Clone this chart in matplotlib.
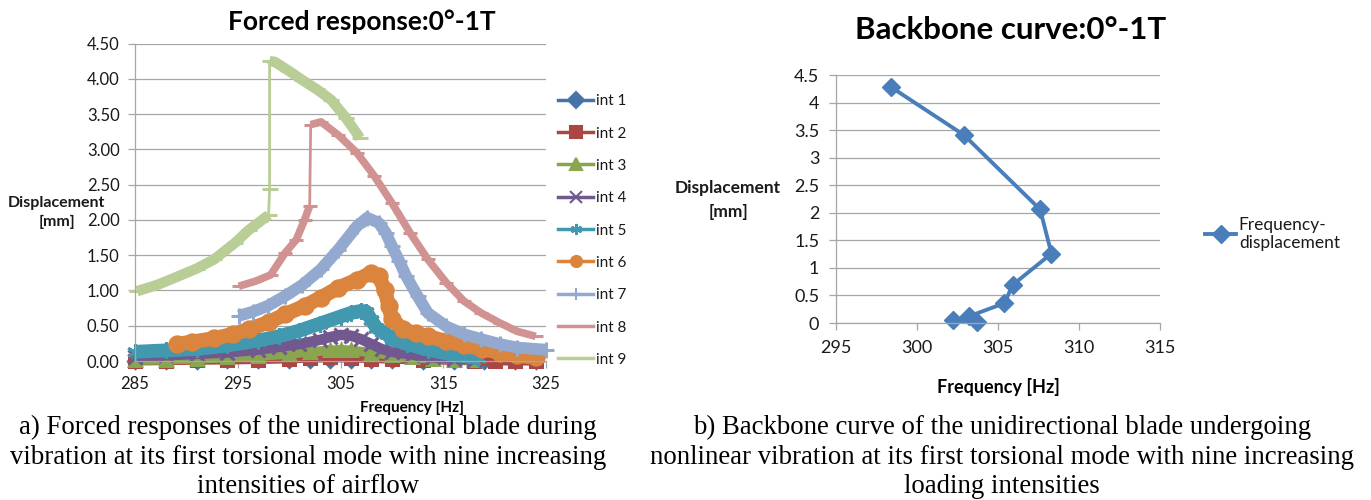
#!/usr/bin/env python

import numpy as np
import matplotlib
matplotlib.use('Agg')
import matplotlib.pyplot as plt
from matplotlib.lines import Line2D

plt.rcParams['font.family'] = ['Lato', 'DejaVu Sans']

# forced responses, nine airflow intensities: frequency [Hz], displacement [mm]
f1 = [285, 288, 291, 294, 297, 300, 302, 304, 306, 308, 310, 313, 316, 319, 322, 324]
d1 = [0.0, 0.0, 0.005, 0.01, 0.01, 0.015, 0.02, 0.02, 0.02, 0.015, 0.01, 0.005, 0.0, 0.0, 0.0, 0.0]

f2 = [285, 288, 291, 294, 297, 300, 302, 304, 306, 308, 310, 313, 316, 318, 320, 322, 324]
d2 = [0.0, 0.005, 0.01, 0.015, 0.02, 0.03, 0.04, 0.05, 0.045, 0.035, 0.025, 0.015, 0.01, 0.0, 0.0, 0.0, 0.0]

f3 = [285, 288, 291, 294, 297, 300, 302, 304, 305, 306, 308, 310, 312, 314, 316, 318]
d3 = [0.01, 0.02, 0.03, 0.05, 0.07, 0.1, 0.13, 0.15, 0.16, 0.15, 0.12, 0.08, 0.05, 0.03, 0.02, 0.01]

f4 = [285, 288, 291, 294, 297, 299, 301, 303, 304, 305, 306, 307, 308, 309, 310, 312, 314, 316, 318]
d4 = [0.06, 0.08, 0.1, 0.12, 0.16, 0.2, 0.24, 0.3, 0.34, 0.37, 0.36, 0.31, 0.24, 0.17, 0.13, 0.09, 0.05, 0.03, 0.02]

f5 = [285, 288, 291, 294, 297, 299, 301, 303, 305, 306, 307, 307.5, 308, 308.5, 309.5, 310,
      311.5, 313.5, 316, 318.4]
d5 = [0.13, 0.15, 0.17, 0.22, 0.29, 0.35, 0.43, 0.53, 0.63, 0.68, 0.71, 0.70, 0.58, 0.47, 0.38, 0.31,
      0.24, 0.16, 0.09, 0.04]

f6 = [289.1, 290.5, 292.7, 294.5, 296.1, 298, 299.6, 301.5, 303.1, 304.8, 306.6, 308, 308.7, 309.3,
      309.7, 310, 311.1, 312.3, 313.5, 315.3, 317, 318.8, 320.5, 322.2, 324]
d6 = [0.24, 0.27, 0.32, 0.38, 0.45, 0.55, 0.66, 0.78, 0.9, 1.04, 1.15, 1.25, 1.21, 1.01,
      0.78, 0.59, 0.45, 0.39, 0.35, 0.28, 0.22, 0.17, 0.12, 0.08, 0.05]

f7 = [295.1, 296.5, 297.9, 299.6, 301.3, 303.1, 304.8, 306.6, 307.6, 308.7, 309.4, 310, 310.7,
      311.4, 312.5, 313.5, 315.3, 317, 318.7, 320.5, 322.2, 325]
d7 = [0.64, 0.7, 0.78, 0.92, 1.08, 1.3, 1.58, 1.91, 2.03, 1.96, 1.82, 1.63, 1.42,
      1.2, 0.92, 0.68, 0.49, 0.38, 0.31, 0.24, 0.19, 0.16]

f8 = [295.1, 296.7, 298.2, 299.6, 300.7, 301.5, 302.0, 302.1, 303.1, 304.8, 306.6, 308.3, 310.0,
      311.8, 313.5, 315.3, 317.0, 318.7, 320.5, 322.2, 324.0]
d8 = [1.06, 1.13, 1.22, 1.53, 1.72, 2.0, 2.2, 3.35, 3.39, 3.2, 2.95, 2.62, 2.24,
      1.81, 1.44, 1.11, 0.85, 0.68, 0.54, 0.42, 0.35]

f9 = [285.2, 287.2, 289.2, 291, 292.7, 294.7, 296.1, 297.2, 298.0, 298.1, 298.1, 298.6, 300,
      301.3, 302.7, 304.1, 305.5, 306.9]
d9 = [0.99, 1.08, 1.20, 1.31, 1.44, 1.67, 1.86, 1.98, 2.07, 2.44, 4.25, 4.24, 4.11,
      3.98, 3.85, 3.70, 3.45, 3.16]

names = ['int 1', 'int 2', 'int 3', 'int 4', 'int 5', 'int 6', 'int 7', 'int 8', 'int 9']
freqs = [f1, f2, f3, f4, f5, f6, f7, f8, f9]
disps = [d1, d2, d3, d4, d5, d6, d7, d8, d9]

# backbone curve: peak of each forced response
bb_freq = [303.7, 302.2, 303.2, 305.4, 305.9, 308.3, 307.6, 302.9, 298.4]
bb_disp = [0.01, 0.05, 0.12, 0.36, 0.69, 1.26, 2.06, 3.41, 4.28]

colors = ['#4572A7', '#AA4643', '#89A54E', '#71588F', '#4198AF',
          '#DB843D', '#93A9CF', '#D19392', '#B9CD96']
markers = ['D', 's', '^', 'x', (6, 2, 0), 'o', '+', '_', '_']
msizes = [7, 9, 9, 10, 12, 11, 12, 10, 12]
bands = [4, 6.5, 7, 7.5, 10, 10.5, 8.5, 5.5, 7.5]

grid_c = '#A6A6A6'
text_c = '#1a1a1a'


def style(ax):
    ax.grid(axis='y', color=grid_c, lw=0.9)
    ax.set_axisbelow(True)
    for s in ['top', 'right']:
        ax.spines[s].set_visible(False)
    for s in ['left', 'bottom']:
        ax.spines[s].set_color(grid_c)
        ax.spines[s].set_linewidth(0.9)
    ax.tick_params(direction='out', length=5, width=0.9, color=grid_c, labelcolor=text_c)


def y_title(ax, x, y, gap, size):
    # two-line axis title set horizontally, left of the tick labels
    ax.text(x, y + gap, 'Displacement', transform=ax.transAxes, ha='center', va='center',
            fontsize=size, fontweight='bold', color=text_c)
    ax.text(x, y - gap, '[mm]', transform=ax.transAxes, ha='center', va='center',
            fontsize=size, fontweight='bold', color=text_c)


fig = plt.figure(figsize=(13.71, 5.0), dpi=100)

# a) forced responses
ax = fig.add_axes([135 / 1371, 1 - 361 / 500, 411 / 1371, 317.5 / 500])
style(ax)
for f, d, c, m, ms, bw in zip(freqs, disps, colors, markers, msizes, bands):
    f = np.array(f)
    d = np.array(d)
    # thin line through everything, thick band except across the jumps
    ax.plot(f, d, color=c, lw=2, clip_on=False)
    cuts = np.where(np.diff(f) < 0.2)[0] + 1
    for fs, ds in zip(np.split(f, cuts), np.split(d, cuts)):
        ax.plot(fs, ds, color=c, lw=bw, solid_capstyle='butt', clip_on=False)
    ax.plot(f, d, ls='none', marker=m, ms=ms, color=c, mec=c, mew=2.2, clip_on=False)

ax.set_xlim(285, 325)
ax.set_ylim(0, 4.5)
ax.set_xticks([285, 295, 305, 315, 325])
ax.set_yticks(np.arange(0, 4.51, 0.5))
ax.set_yticklabels(['%.2f' % v for v in np.arange(0, 4.51, 0.5)])
ax.tick_params(labelsize=12, pad=6)
y_title(ax, -0.19, 0.469, 0.03, 11.5)
ax.set_xlabel('Frequency [Hz]', fontsize=11, fontweight='bold')
ax.xaxis.set_label_coords(0.674, -0.125)

handles = [Line2D([], [], color=c, lw=2.5, marker=m, ms=0 if m == '_' else 8, mew=1.5)
           for c, m in zip(colors, markers)]
fig.legend(handles, names, loc='center left', bbox_to_anchor=(558 / 1371, 1 - 230.5 / 500),
           frameon=False, fontsize=11, handlelength=2.3, handletextpad=0.2,
           labelspacing=1.2, borderpad=0, borderaxespad=0, labelcolor=text_c)

fig.text(362 / 1371, 1 - 22 / 500, 'Forced response:0°-1T', ha='center', va='center',
         fontsize=19, fontweight='bold')

# b) backbone curve
bx = fig.add_axes([836 / 1371, 1 - 323 / 500, 324 / 1371, 248 / 500])
style(bx)
bx.plot(bb_freq, bb_disp, color='#4A7EBB', lw=2.8, marker='D', ms=9,
        label='Frequency-\ndisplacement', clip_on=False)
bx.set_xlim(295, 315)
bx.set_ylim(0, 4.5)
bx.set_xticks([295, 300, 305, 310, 315])
bx.set_yticks(np.arange(0, 4.51, 0.5))
bx.set_yticklabels(['%g' % v for v in np.arange(0, 4.51, 0.5)])
bx.tick_params(labelsize=13, pad=7)
y_title(bx, -0.333, 0.496, 0.05, 12.5)
bx.set_xlabel('Frequency [Hz]', fontsize=13, fontweight='bold')
bx.xaxis.set_label_coords(0.5, -0.222)
bx.legend(loc='center left', bbox_to_anchor=(1205 / 1371, 1 - 234 / 500),
          bbox_transform=fig.transFigure, frameon=False, fontsize=12.5,
          handlelength=1.8, handletextpad=0.15, borderpad=0, borderaxespad=0,
          labelcolor=text_c)

fig.text(1011 / 1371, 1 - 30 / 500, 'Backbone curve:0°-1T', ha='center', va='center',
         fontsize=22.5, fontweight='bold')

# captions
cap_a = ('a) Forced responses of the unidirectional blade during\n'
         'vibration at its first torsional mode with nine increasing\n'
         'intensities of airflow')
cap_b = ('b) Backbone curve of the unidirectional blade undergoing\n'
         'nonlinear vibration at its first torsional mode with nine increasing\n'
         'loading intensities')
fig.text(308 / 1371, 1 - 457 / 500, cap_a, ha='center', va='center', fontsize=19.3,
         family='Liberation Serif', linespacing=1.22)
fig.text(1002 / 1371, 1 - 457 / 500, cap_b, ha='center', va='center', fontsize=19.3,
         family='Liberation Serif', linespacing=1.22)

fig.savefig('out.png', dpi=100)
